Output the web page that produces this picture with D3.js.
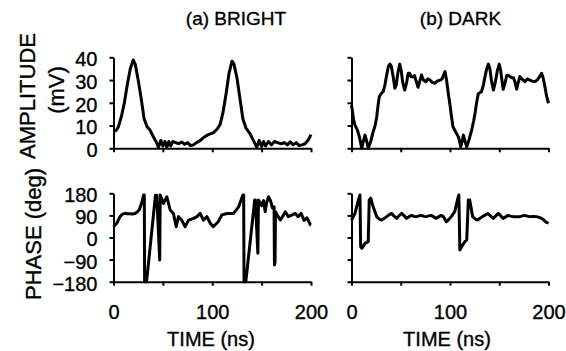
<!DOCTYPE html>
<html>
<head>
<meta charset="utf-8">
<script src="https://cdn.jsdelivr.net/npm/d3@7"></script>
<style>
body {margin:0; background:#fff;}
text {font-family:"Liberation Sans", Arial, sans-serif; fill:#000; stroke:#000; stroke-width:0.35px;}
.axis path, .axis line {stroke:#000; stroke-width:2;}
.curve {fill:none; stroke:#000; stroke-width:3; stroke-linejoin:round;}
</style>
</head>
<body>
<svg id="fig" width="566" height="351"></svg>
<script>
// amplitude, bright pulses (ns, mV)
var brightAmpT = [0,3,5,8,11,14,17,20,22,25,28,31,34,37,40,43,45.5,48,50,52,54,56,58,60,63,66,69,72,75,78,81,84,88,92,96,101,105,108,111,114,117,120,122,125,128,131,134,138,141,145,147.5,150,152,154,157,160,163,166,170,173,176,179,182,185,188,191,194,197,200];
var brightAmpV = [7.3,8,9.5,14,20,28,35,38.8,37,30,22,13,9.5,8,5.4,3,0.5,3.5,1,3,0.5,3,1,3,2.5,2,2.8,1.8,2.5,1.2,1.5,2.5,3.5,5,6,6.8,8.5,10.5,16,24,33,38.3,37,31,22,13,9,6.6,4,0.5,3.5,0.8,3,1,3,1.5,3,2.5,2,2.5,1.5,2.8,1.5,2.5,1.2,1.5,2,3.5,6];

// amplitude, dark pulses
var darkAmpT = [0,2,3.5,6,8,10.4,12,13.7,15.5,17,19.5,22,24,25.6,27,28.2,30,32.3,34,35.7,37.5,39,40.5,42.5,44,45.5,47,49,50.5,52,54,56,57.6,59,60.5,62.6,64,66,67.6,69,71,73,75.6,77.5,79.7,82,84.8,87,89.8,92,94.9,96.5,98.3,100,101.5,103,106,108.6,110.9,112.3,113.6,115.3,117,119.5,122,124,125.4,127,128.7,130.5,132,134,135.5,137.3,139,140.5,142,144,146,148,150,151.5,153,154,156,157.6,159.5,162.6,164.5,166,167.7,169,171,173,176,178.5,181,183.5,186,188.5,191,193,194.5,196.5,198,200];
var darkAmpV = [19,13,10.2,8,5,0,3,5.8,3,0,3,7.3,10,13.9,19,22.7,24,25,28,32.2,36,37,36,31,26.4,28,33,37,34,29,25.6,29,33,33,31.5,31.5,32,29,26.8,29,32.2,30,29.3,30.5,30,29,28.6,29.5,30,30.5,33.7,30,24,19,14,9.5,7,5,0.7,3,5.8,3,0.7,4,8,12,15.4,20,24,24.5,24.9,28,31.5,35,37,35,30,25.6,29,34,37,34,29,25.9,29,32,32,31,31,29,26,28.5,31.5,30.5,29.3,30.5,30,29.5,29.3,30,31.5,33,31,26.8,23,19.8];

// phase, bright pulses (deg)
var brightPhT = [0,3.3,6.6,9,11.7,14,16.8,19,21.8,24,26,28.5,30.5,31.2,31.5,33.5,42.5,43.8,46.8,47.3,50.6,54,57.4,60.7,63.5,65.8,69,72.6,76,81,84.5,87.8,91,94.6,98,101,106,109.8,115,121.6,126.7,131,131.8,132.2,134,143,143.6,146.2,146.8,150,152,153.6,155,157,159,161,162.6,163,163.6,164,166,169,172,174,177,180,184,187,190,193,196,199.5,200];
var brightPhV = [44,58,85,95,98.5,97,97,96,98,104,112,140,173,173,-180,-180,172,172,-92,173,139,166,112,98,44,85,71,44,71,78,85,98,71,85,58,44,64,92,98,98,125,173,173,-180,-180,153,153,-64,153,130,150,105,140,166,150,120,125,-112,-100,105,90,71,90,105,85,90,98,85,98,70,80,51,50];

// phase, dark pulses
var darkPhT = [0,3.5,7,8.6,9.3,10.4,12,13.7,15.5,17,18,19.5,22,25.6,28,30.7,33,35.7,38,40.8,43,45.9,48,51,53.5,56,58.5,61,63.5,66,68.5,71,73.5,76,78.5,81,83.5,86,88.5,91,93.5,96.2,98,101.3,104.8,108,109,110,111,113,115,117,118.6,120,123,125.5,128,130.5,133,136,138.6,141,144,146.5,149,151.5,154,156.5,159,161.5,164,167.5,171,173.5,176,178.5,181,184.5,188,190.5,193,195,197,200];
var darkPhV = [71,98,153,173,-37,-44,-35,-24,-20,-17,153,160,125,85,75,71,77,85,92,98,88,78,88,98,88,78,85,90,86,85,88,90,86,85,88,90,84,78,84,90,84,64,70,85,105,160,173,-51,-44,-30,-17,-10,153,153,85,76,71,78,85,92,98,88,78,88,98,88,78,84,90,87,85,85,85,88,90,87,85,86,85,82,78,72,64,58];

var timeTicks = [0,50,100,150,200];
var timeLabels = [0,100,200];
var ampTicks = [0,10,20,30,40];
var phaseTicks = [-180,-90,0,90,180];

var svg = d3.select("#fig");

var xA = d3.scaleLinear().domain([0,200]).range([113.5,311]);
var xB = d3.scaleLinear().domain([0,200]).range([351.5,548.5]);
var yAmp = d3.scaleLinear().domain([0,40]).range([148.3,57.3]);
var yPh = d3.scaleLinear().domain([-180,180]).range([281.7,193.3]);

function pairs(T,V){ return T.map(function(t,i){ return [t,V[i]]; }); }

function panel(x, y, T, V, yTicks, showY, showX){
	// y axis
	var ya = d3.axisLeft(y).tickValues(yTicks).tickSize(4).tickSizeOuter(0).tickPadding(12);
	if (!showY) ya.tickFormat("");
	svg.append("g").attr("class","axis")
		.attr("transform","translate("+x.range()[0]+",0)")
		.call(ya)
		.selectAll("text").attr("dy","0.42em").style("font-size","20px");
	// x axis
	var xa = d3.axisBottom(x).tickValues(timeTicks).tickSize(4).tickSizeOuter(0).tickPadding(19)
		.tickFormat(function(d){ return (showX && timeLabels.indexOf(d)>=0) ? d : ""; });
	svg.append("g").attr("class","axis")
		.attr("transform","translate(0,"+y.range()[0]+")")
		.call(xa)
		.selectAll("text").style("font-size","20px");
	svg.selectAll(".axis text").attr("font-family",null);
	// trace
	svg.append("path")
		.datum(pairs(T,V))
		.attr("class","curve")
		.attr("d", d3.line().x(function(d){return x(d[0]);}).y(function(d){return y(d[1]);}));
}

panel(xA, yAmp, brightAmpT, brightAmpV, ampTicks, true, false);
panel(xB, yAmp, darkAmpT, darkAmpV, ampTicks, false, false);
panel(xA, yPh, brightPhT, brightPhV, phaseTicks, true, true);
panel(xB, yPh, darkPhT, darkPhV, phaseTicks, false, true);

// titles and axis names
svg.append("text").attr("x",236).attr("y",25).attr("text-anchor","middle").style("font-size","19px").text("(a) BRIGHT");
svg.append("text").attr("x",460.5).attr("y",25).attr("text-anchor","middle").style("font-size","19px").text("(b) DARK");
svg.append("text").attr("transform","translate(35,96) rotate(-90)").attr("text-anchor","middle").style("font-size","22px").text("AMPLITUDE");
svg.append("text").attr("transform","translate(64,90) rotate(-90)").attr("text-anchor","middle").style("font-size","22px").text("(mV)");
svg.append("text").attr("transform","translate(41,234) rotate(-90)").attr("text-anchor","middle").style("font-size","22px").text("PHASE (deg)");
svg.append("text").attr("x",211).attr("y",346).attr("text-anchor","middle").style("font-size","20px").text("TIME (ns)");
svg.append("text").attr("x",447).attr("y",346).attr("text-anchor","middle").style("font-size","20px").text("TIME (ns)");
</script>
</body>
</html>
